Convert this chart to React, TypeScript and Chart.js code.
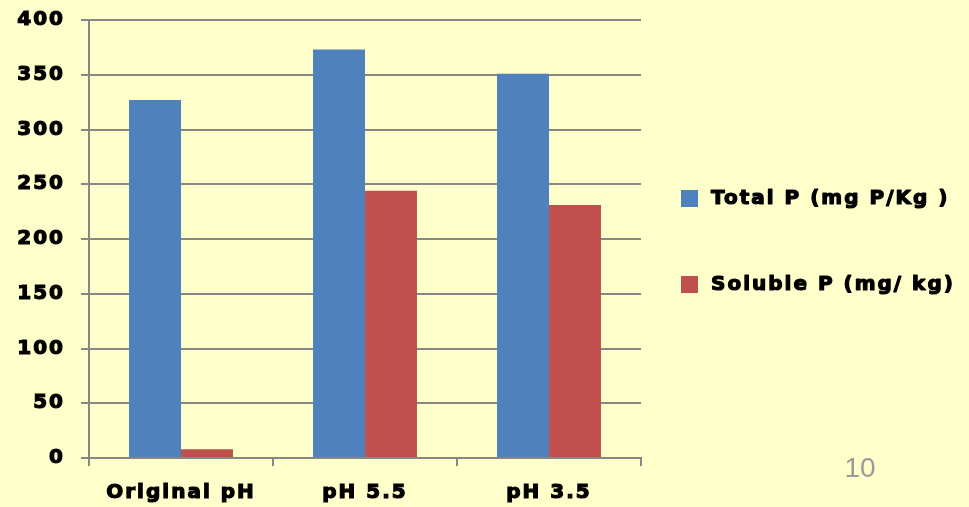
import React, { useEffect, useRef } from "react";
import { Chart, registerables } from "chart.js";

Chart.register(...registerables);

const categories = ["Original pH", "pH 5.5", "pH 3.5"];
const totalP = [327, 373, 351];
const solubleP = [8, 244, 231];
const seriesNames = ["Total P (mg P/Kg )", "Soluble P (mg/ kg)"];
const yTicks = [0, 50, 100, 150, 200, 250, 300, 350, 400];
const pageNumber = "10";

const BLUE = "#4F81BD";
const RED = "#C0504D";
const BG = "#FFFFCC";
const GRID = "#878787";
const FONT = "'DejaVu Sans', Verdana, sans-serif";
const SPACING = "2px";
const STROKE = 1.2;

const overlayPlugin = {
  id: "overlay",
  beforeDraw(chart: any) {
    (chart.ctx as any).letterSpacing = SPACING;
  },
  afterDraw(chart: any) {
    const ctx = chart.ctx;
    ctx.save();
    (ctx as any).letterSpacing = SPACING;
    const items = chart.data.datasets.map((d: any) => ({ label: d.label, color: d.backgroundColor }));
    const ys = [198.5, 284.5];
    ctx.font = `bold 20px ${FONT}`;
    ctx.textBaseline = "middle";
    ctx.textAlign = "left";
    ctx.lineJoin = "round";
    items.forEach((it: any, i: number) => {
      ctx.fillStyle = it.color;
      ctx.fillRect(681, ys[i] - 8.5, 17, 17);
      ctx.fillStyle = "#000";
      ctx.strokeStyle = "#000";
      ctx.lineWidth = STROKE;
      ctx.strokeText(it.label, 711, ys[i]);
      ctx.fillText(it.label, 711, ys[i]);
    });
    (ctx as any).letterSpacing = "0px";
    ctx.font = `28px 'Liberation Sans', Arial, sans-serif`;
    ctx.fillStyle = "#9a9a9a";
    ctx.textAlign = "center";
    ctx.fillText(pageNumber, 860, 469);
    ctx.restore();
  },
};

export default function App() {
  const ref = useRef<HTMLCanvasElement>(null);
  useEffect(() => {
    if (!ref.current) return;
    const chart = new Chart(ref.current, {
      type: "bar",
      data: {
        labels: categories,
        datasets: [
          { label: seriesNames[0], data: totalP, backgroundColor: BLUE, borderWidth: 0 },
          { label: seriesNames[1], data: solubleP, backgroundColor: RED, borderWidth: 0 },
        ],
      },
      options: {
        animation: false,
        responsive: false,
        maintainAspectRatio: false,
        layout: { padding: { left: 0, right: 328, top: 20, bottom: 0 } },
        plugins: { legend: { display: false }, tooltip: { enabled: false } },
        datasets: { bar: { categoryPercentage: 0.565, barPercentage: 1 } },
        scales: {
          x: {
            grid: { display: true, drawOnChartArea: false, drawTicks: true, tickLength: 8, color: GRID, lineWidth: 2, offset: true },
            border: { display: true, color: GRID, width: 2 },
            ticks: {
              color: "#000",
              font: { family: FONT, size: 20, weight: "bold" },
              padding: 15,
              maxRotation: 0,
              autoSkip: false,
              textStrokeColor: "#000",
              textStrokeWidth: STROKE,
            },
            afterFit: (s: any) => {
              s.height = 49;
              s.paddingLeft = 0;
              s.paddingRight = 0;
            },
          },
          y: {
            min: 0,
            max: 400,
            afterBuildTicks: (s: any) => { s.ticks = yTicks.map((v) => ({ value: v })); },
            grid: { color: GRID, lineWidth: 2, drawTicks: true, tickLength: 8 },
            border: { display: true, color: GRID, width: 2 },
            ticks: {
              color: "#000",
              font: { family: FONT, size: 20, weight: "bold" },
              padding: 16,
              textStrokeColor: "#000",
              textStrokeWidth: STROKE,
            },
            afterFit: (s: any) => {
              s.width = 89;
              s.paddingTop = 0;
              s.paddingBottom = 0;
            },
          },
        },
      },
      plugins: [overlayPlugin],
    });
    return () => chart.destroy();
  }, []);
  return (
    <div style={{ position: "fixed", left: 0, top: 0, width: 969, height: 507, background: BG }}>
      <canvas ref={ref} width={969} height={507} style={{ display: "block" }} />
    </div>
  );
}
